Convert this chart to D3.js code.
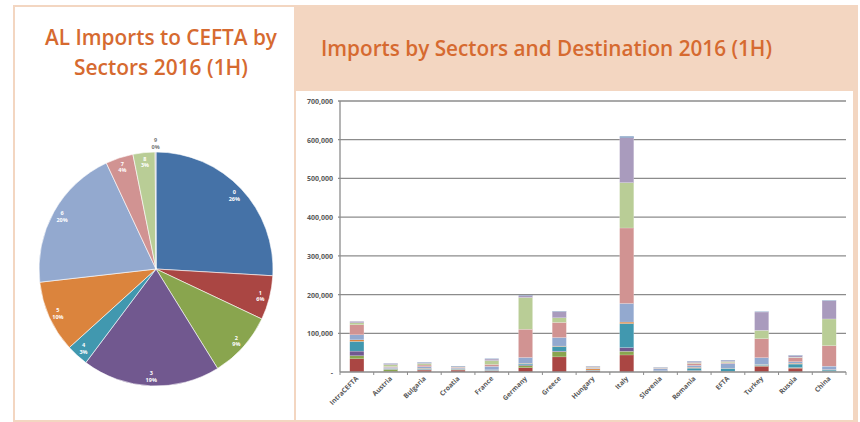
<!DOCTYPE html>
<html>
<head>
<meta charset="utf-8">
<script src="https://cdn.jsdelivr.net/npm/d3@7"></script>
<style>
  body { margin: 0; background: #fff; }
  svg { display: block; }
  .title { font-family: "Open Sans", sans-serif; font-weight: 600; fill: #d66a30; }
  .tick-label { font-family: "Open Sans", sans-serif; font-weight: 700; fill: #595959; }
</style>
</head>
<body>
<div id="chart"></div>
<script>
// destinations (x axis of the stacked bars)
const destinations = ["IntraCEFTA", "Austria", "Bulgaria", "Croatia", "France", "Germany", "Greece",
  "Hungary", "Italy", "Slovenia", "Romania", "EFTA", "Turkey", "Russia", "China"];
const sectors = ["0", "1", "2", "3", "4", "5", "6", "7", "8", "9"];

// imports per sector, one value per destination (same order as destinations)
const sector0 = [34000, 1000, 5000, 5000, 3000, 11000, 39000, 3000, 44000, 500, 2000, 1000, 15000, 10000, 1000];
const sector1 = [8000, 6000, 1000, 1000, 500, 5500, 13000, 500, 9500, 300, 1000, 300, 1500, 1000, 500];
const sector2 = [12000, 500, 1000, 500, 500, 2000, 2000, 500, 9500, 200, 1000, 200, 500, 500, 500];
const sector3 = [25000, 1000, 2000, 1000, 1000, 3000, 12000, 1000, 62000, 1500, 6000, 8000, 2500, 9000, 3000];
const sector4 = [4000, 500, 1000, 1000, 500, 1000, 1000, 3000, 4000, 500, 2000, 500, 500, 2000, 1000];
const sector5 = [13000, 3000, 4000, 2000, 9000, 15000, 22000, 2000, 48000, 6000, 5000, 12000, 17000, 4000, 9000];
const sector6 = [26000, 2000, 4000, 2000, 5000, 73000, 39000, 2000, 195000, 1000, 5000, 2000, 49000, 10000, 53000];
const sector7 = [5000, 5000, 4000, 1000, 10000, 82000, 12000, 1500, 117000, 1000, 2000, 3000, 21500, 1500, 69000];
const sector8 = [4000, 3000, 2000, 1000, 4000, 5000, 16000, 1500, 116500, 1000, 3000, 3000, 47500, 4000, 47000];
const sector9 = [150, 500, 1000, 1000, 1000, 1000, 1000, 500, 3000, 500, 1000, 1000, 1000, 1000, 1000];
const sectorSeries = [sector0, sector1, sector2, sector3, sector4, sector5, sector6, sector7, sector8, sector9];

const yTicks = [0, 100000, 200000, 300000, 400000, 500000, 600000, 700000];

const pieColors = ["#4572a7", "#aa4643", "#89a54e", "#71588f", "#4198af", "#db843d", "#93a9cf", "#d19392", "#b9cd96", "#a99bbd"];
const barColors = ["#aa4643", "#89a54e", "#71588f", "#4198af", "#db843d", "#93a9cf", "#d19392", "#b9cd96", "#a99bbd", "#4572a7"];

const width = 860, height = 422;
const peach = "#f3d6c1";

const svg = d3.select("#chart").append("svg")
  .attr("width", width)
  .attr("height", height);

// frames
svg.append("rect").attr("x", 13).attr("y", 5).attr("width", 845).attr("height", 417).attr("fill", peach);
svg.append("rect").attr("x", 15).attr("y", 7).attr("width", 279).attr("height", 413).attr("fill", "#fff");
svg.append("rect").attr("x", 296).attr("y", 91).attr("width", 557).attr("height", 329).attr("fill", "#fff");

// titles
svg.append("text").attr("class", "title").attr("x", 45).attr("y", 45)
  .attr("font-size", 21).attr("textLength", 232).attr("lengthAdjust", "spacingAndGlyphs")
  .text("AL Imports to CEFTA by");
svg.append("text").attr("class", "title").attr("x", 74).attr("y", 75)
  .attr("font-size", 21).attr("textLength", 174).attr("lengthAdjust", "spacingAndGlyphs")
  .text("Sectors 2016 (1H)");
svg.append("text").attr("class", "title").attr("x", 321).attr("y", 56)
  .attr("font-size", 21).attr("textLength", 451).attr("lengthAdjust", "spacingAndGlyphs")
  .text("Imports by Sectors and Destination 2016 (1H)");

// ---- pie: IntraCEFTA imports by sector ----
const pieData = sectors.map((s, i) => ({ sector: s, value: sectorSeries[i][0] }));
const total = d3.sum(pieData, d => d.value);
const radius = 117;
const pie = d3.pie().sort(null).value(d => d.value);
const arc = d3.arc().innerRadius(0).outerRadius(radius);
const labelArc = d3.arc().innerRadius(radius * 0.92).outerRadius(radius * 0.92);
const outerLabelArc = d3.arc().innerRadius(radius + 9).outerRadius(radius + 9);

const pieG = svg.append("g").attr("transform", "translate(156,269)");
const slices = pie(pieData);

pieG.selectAll("path")
  .data(slices)
  .enter()
  .append("path")
  .attr("d", arc)
  .attr("fill", (d, i) => pieColors[i])
  .attr("stroke", "#fff")
  .attr("stroke-width", 0.6);

const pieLabels = pieG.selectAll(".pie-label")
  .data(slices)
  .enter()
  .append("text")
  .attr("class", "pie-label")
  .attr("transform", d => {
    const small = d.data.value / total < 0.01;
    const c = (small ? outerLabelArc : labelArc).centroid(d);
    return `translate(${c[0]}, ${c[1]})`;
  })
  .attr("text-anchor", "middle")
  .attr("font-family", "Open Sans, sans-serif")
  .attr("font-weight", 700)
  .attr("font-size", 5.5)
  .attr("fill", d => d.data.value / total < 0.01 ? "#777" : "#fff");

pieLabels.append("tspan").attr("x", 0).attr("dy", "-0.2em").text(d => d.data.sector);
pieLabels.append("tspan").attr("x", 0).attr("dy", "1.2em")
  .text(d => Math.round(d.data.value / total * 100) + "%");

// ---- stacked bars ----
const plot = { left: 340, right: 846, top: 101, bottom: 372 };

const rows = destinations.map((name, j) => {
  const row = { name };
  sectors.forEach((s, i) => { row[s] = sectorSeries[i][j]; });
  return row;
});

const stack = d3.stack().keys(sectors);
const stacked = stack(rows);

const scaleX = d3.scaleBand()
  .domain(destinations)
  .range([plot.left, plot.right])
  .paddingInner(0.58)
  .paddingOuter(0.29);
const scaleY = d3.scaleLinear()
  .domain([0, 700000])
  .range([plot.bottom, plot.top]);

// gridlines
svg.append("g")
  .selectAll("line")
  .data(yTicks.filter(d => d > 0))
  .enter()
  .append("line")
  .attr("x1", plot.left - 2)
  .attr("x2", plot.right)
  .attr("y1", d => scaleY(d))
  .attr("y2", d => scaleY(d))
  .attr("stroke", "#8c8c8c")
  .attr("stroke-width", 1.3);

const yAxis = d3.axisLeft(scaleY)
  .tickValues(yTicks)
  .tickSize(0)
  .tickPadding(7)
  .tickFormat(d => d === 0 ? "-" : d3.format(",")(d));

const yAxisG = svg.append("g")
  .attr("transform", `translate(${plot.left}, 0)`)
  .call(yAxis);
yAxisG.select(".domain").remove();
yAxisG.selectAll("text")
  .attr("class", "tick-label")
  .attr("font-size", 7)
  .attr("dy", "0.35em");

svg.append("line")
  .attr("x1", plot.left).attr("x2", plot.left)
  .attr("y1", plot.top).attr("y2", plot.bottom)
  .attr("stroke", "#8c8c8c").attr("stroke-width", 1.3);

svg.append("g")
  .selectAll("g")
  .data(stacked)
  .enter()
  .append("g")
  .attr("fill", (d, i) => barColors[i])
  .selectAll("rect")
  .data(d => d)
  .enter()
  .append("rect")
  .attr("x", d => scaleX(d.data.name))
  .attr("width", scaleX.bandwidth())
  .attr("y", d => scaleY(d[1]))
  .attr("height", d => scaleY(d[0]) - scaleY(d[1]))
  .attr("stroke", "#fff")
  .attr("stroke-width", 0.3)
  .attr("stroke-opacity", 0.6);

// x axis line and ticks between categories
svg.append("line")
  .attr("x1", plot.left).attr("x2", plot.right)
  .attr("y1", plot.bottom).attr("y2", plot.bottom)
  .attr("stroke", "#8c8c8c").attr("stroke-width", 1.3);

const step = scaleX.step();
svg.append("g")
  .selectAll("line")
  .data(d3.range(destinations.length + 1))
  .enter()
  .append("line")
  .attr("x1", i => plot.left + i * step)
  .attr("x2", i => plot.left + i * step)
  .attr("y1", plot.bottom)
  .attr("y2", plot.bottom + 3)
  .attr("stroke", "#8c8c8c")
  .attr("stroke-width", 1);

svg.append("g")
  .selectAll("text")
  .data(destinations)
  .enter()
  .append("text")
  .attr("class", "tick-label")
  .attr("font-size", 6.8)
  .attr("text-anchor", "end")
  .attr("transform", d => `translate(${scaleX(d) + scaleX.bandwidth() / 2 + 2}, ${plot.bottom + 7}) rotate(-45)`)
  .text(d => d);
</script>
</body>
</html>
